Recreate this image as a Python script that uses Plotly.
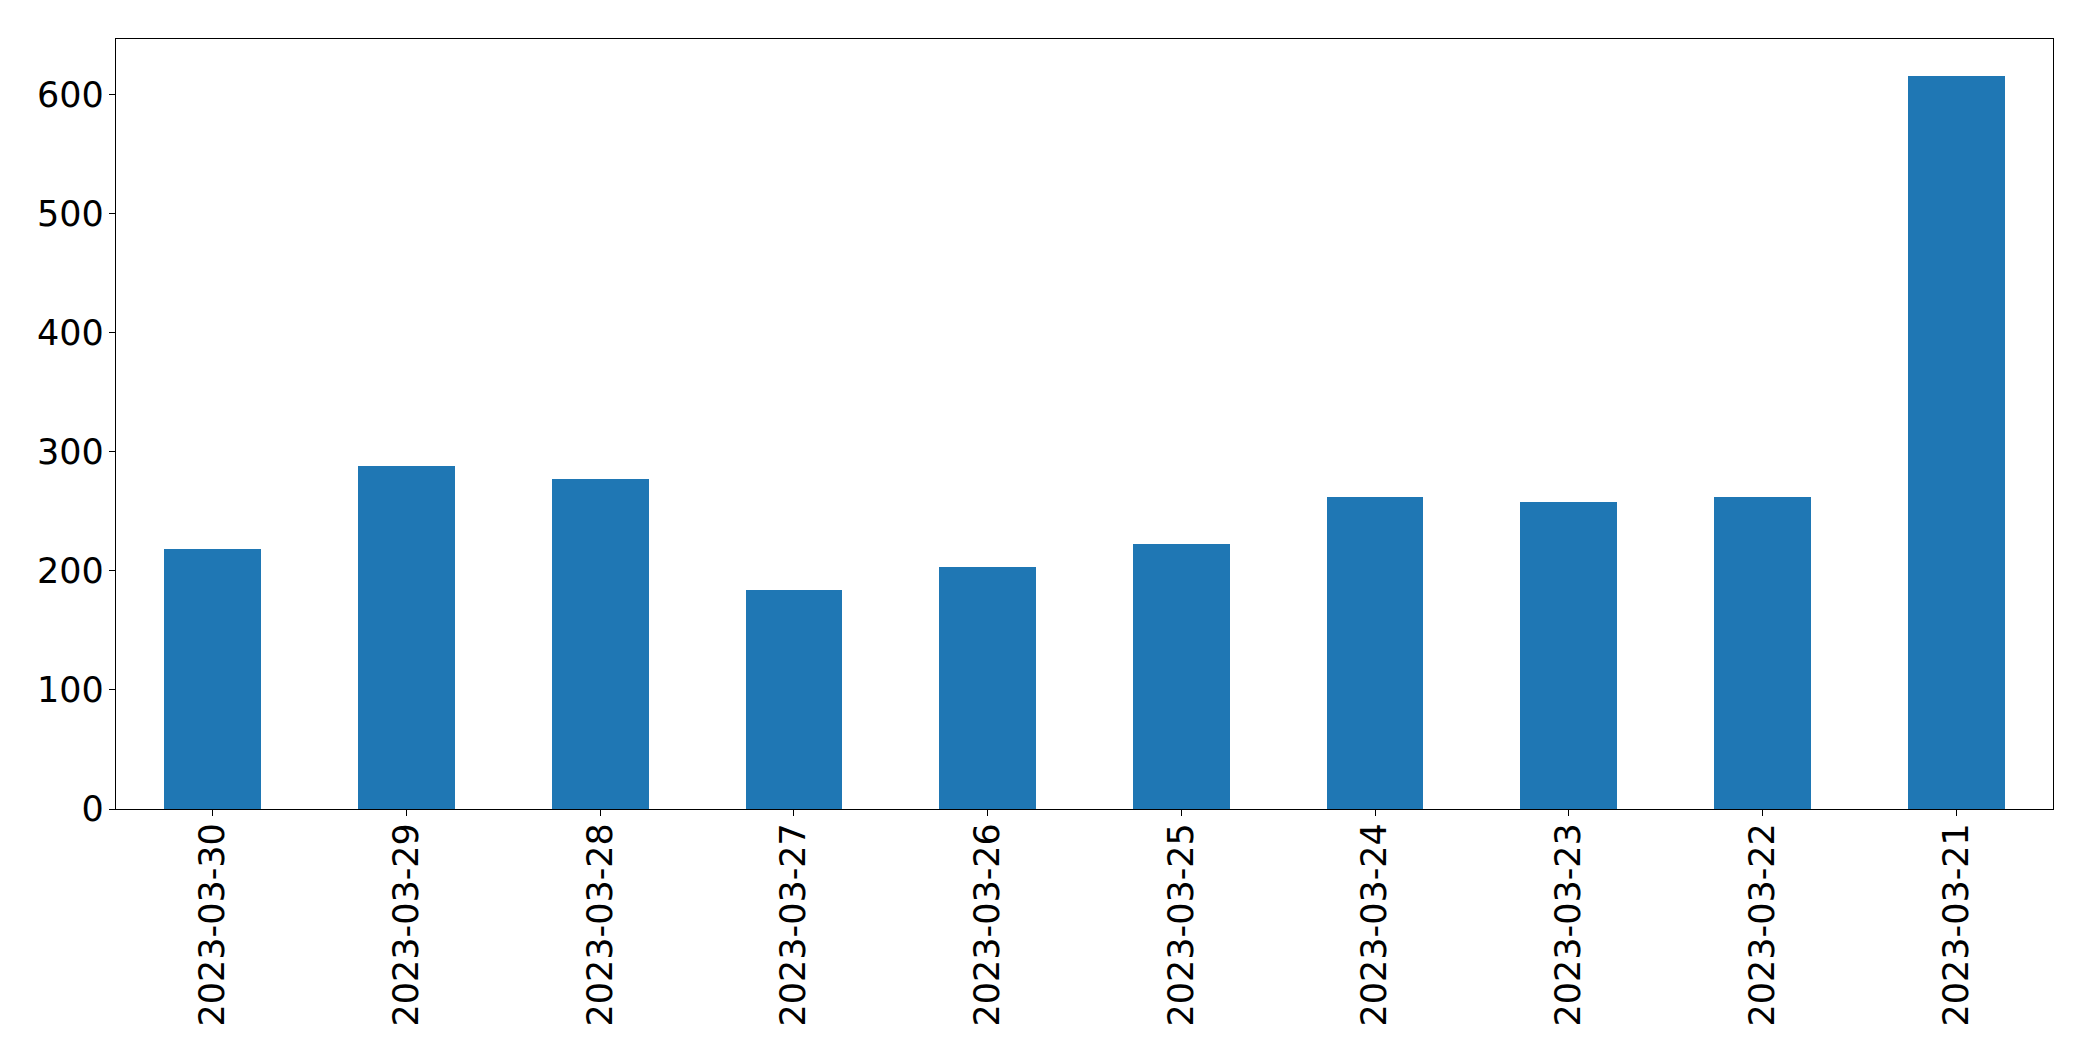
import plotly.graph_objects as go

dates = ["2023-03-30", "2023-03-29", "2023-03-28", "2023-03-27", "2023-03-26",
         "2023-03-25", "2023-03-24", "2023-03-23", "2023-03-22", "2023-03-21"]
counts = [218, 288, 277, 184, 203, 223, 262, 258, 262, 616]
y_ticks = [0, 100, 200, 300, 400, 500, 600]

fig = go.Figure(go.Bar(x=dates, y=counts, marker_color="#1f77b4",
                       marker_line_width=0, width=0.5))

font = dict(family="DejaVu Sans", size=35, color="black")
fig.update_layout(
    width=2093, height=1061,
    margin=dict(l=116, r=40, t=39, b=252),
    plot_bgcolor="white", paper_bgcolor="white",
    showlegend=False, bargap=0,
    font=font,
)
fig.update_xaxes(
    type="category", range=[-0.5, len(dates) - 0.5],
    showline=True, linecolor="black", linewidth=1.3, mirror=True,
    ticks="outside", ticklen=6, tickwidth=1.3, tickcolor="black",
    tickangle=-90, showgrid=False, tickfont=font, ticklabelstandoff=-7,
)
fig.update_yaxes(
    range=[0, 646.8], tickvals=y_ticks,
    showline=True, linecolor="black", linewidth=1.3, mirror=True,
    ticks="outside", ticklen=6, tickwidth=1.3, tickcolor="black",
    showgrid=False, zeroline=False, tickfont=font, ticklabelstandoff=-2,
)
fig.write_html("out.html")
